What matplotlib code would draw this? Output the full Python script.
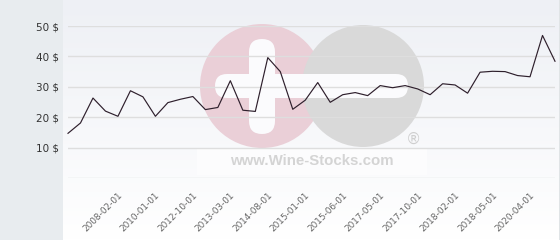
import numpy as np
import matplotlib
matplotlib.use("Agg")
import matplotlib.pyplot as plt
from matplotlib.patches import Circle, FancyBboxPatch, Rectangle
from matplotlib.transforms import ScaledTranslation

# ---- data ----
values = [14.7, 18.1, 26.3, 22.0, 20.3, 28.7, 26.7, 20.3, 24.8, 25.9,
          26.8, 22.5, 23.2, 32.0, 22.3, 21.9, 39.6, 35.0, 22.6, 25.6,
          31.4, 24.9, 27.4, 28.1, 27.1, 30.4, 29.7, 30.4, 29.3, 27.4,
          31.0, 30.6, 27.9, 34.8, 35.1, 35.0, 33.7, 33.3, 46.9, 38.4]
categories = ["", "", "", "", "", "2008-02-01", "", "", "2010-01-01", "",
              "", "2012-10-01", "", "", "2013-03-01", "", "", "2014-08-01", "", "",
              "2015-01-01", "", "", "2015-06-01", "", "", "2017-05-01", "", "",
              "2017-10-01", "", "", "2018-02-01", "", "", "2018-05-01", "", "",
              "2020-04-01", ""]
y_ticks = [0, 10, 20, 30, 40, 50]
y_labels = ["", "10 $", "20 $", "30 $", "40 $", "50 $"]

W, H = 560, 240
fig = plt.figure(figsize=(W / 100, H / 100), dpi=100)
fig.patch.set_facecolor("#e8ecef")

# background / watermark layer in pixel coordinates
bg = fig.add_axes([0, 0, 1, 1], zorder=0)
bg.set_xlim(0, W)
bg.set_ylim(H, 0)
bg.axis("off")
top = np.array([238, 240, 245]) / 255
bot = np.array([255, 255, 255]) / 255
t = np.linspace(0, 1, 240)[:, None]
grad = (top[None, :] * (1 - t) + bot[None, :] * t)[:, None, :]
bg.imshow(grad, extent=[63, 559, 240, 0], aspect="auto", zorder=0)
bg.plot([559.5, 559.5], [0, 240], color="#c4c4c4", lw=1.0, zorder=1)

bg.add_patch(Circle((262, 86), 62, color="#eacfd7", lw=0, zorder=2))
bg.add_patch(Circle((363, 86), 61, color="#d9d9d9", lw=0, zorder=3))
bg.add_patch(FancyBboxPatch((215, 74), 193, 24,
                            boxstyle="round,pad=0,rounding_size=12",
                            color="#fbfbfd", lw=0, zorder=4))
bg.add_patch(FancyBboxPatch((249, 39), 26, 95,
                            boxstyle="round,pad=0,rounding_size=13",
                            color="#fbfbfd", lw=0, zorder=4))
bg.text(413, 139, "®", fontsize=11, color="#cfcfcf", ha="center", va="center",
        fontfamily="DejaVu Sans", zorder=5)
bg.add_patch(Rectangle((197, 149), 230, 26, color="#ffffff", alpha=0.6, lw=0, zorder=5))
bg.text(312, 161, "www.Wine-Stocks.com", fontsize=10.8, color="#d4d4d4",
        ha="center", va="center", fontfamily="Liberation Sans",
        fontweight="bold", zorder=6)

# main chart
ax = fig.add_axes([68 / W, 1 - 178 / H, 487 / W, 152 / H], zorder=1)
ax.patch.set_alpha(0)
x = np.arange(len(values))
ax.plot(x, values, color="#2e1f2c", lw=0.85, zorder=3, clip_on=False)
ax.set_xlim(0, len(values) - 1)
ax.set_ylim(0, 50)
ax.set_yticks(y_ticks)
ax.set_yticklabels(y_labels)
ax.grid(axis="y", color="#dedede", lw=1.0, zorder=1)
ax.set_axisbelow(True)
for s in ax.spines.values():
    s.set_visible(False)
ax.tick_params(axis="y", length=0, pad=6.5, labelsize=7.5, labelcolor="#333333")

tick_pos = [i for i, c in enumerate(categories) if c]
ax.set_xticks(tick_pos)
ax.set_xticklabels([categories[i] for i in tick_pos])
ax.tick_params(axis="x", length=0, pad=11.5, labelsize=6.4, labelcolor="#666666")
off = ScaledTranslation(-9.5 / 100, 0, fig.dpi_scale_trans)
for lab in ax.get_xticklabels():
    lab.set_rotation(45)
    lab.set_rotation_mode("anchor")
    lab.set_ha("right")
    lab.set_va("center")
    lab.set_transform(lab.get_transform() + off)

fig.savefig("out.png", dpi=100, facecolor=fig.get_facecolor())
